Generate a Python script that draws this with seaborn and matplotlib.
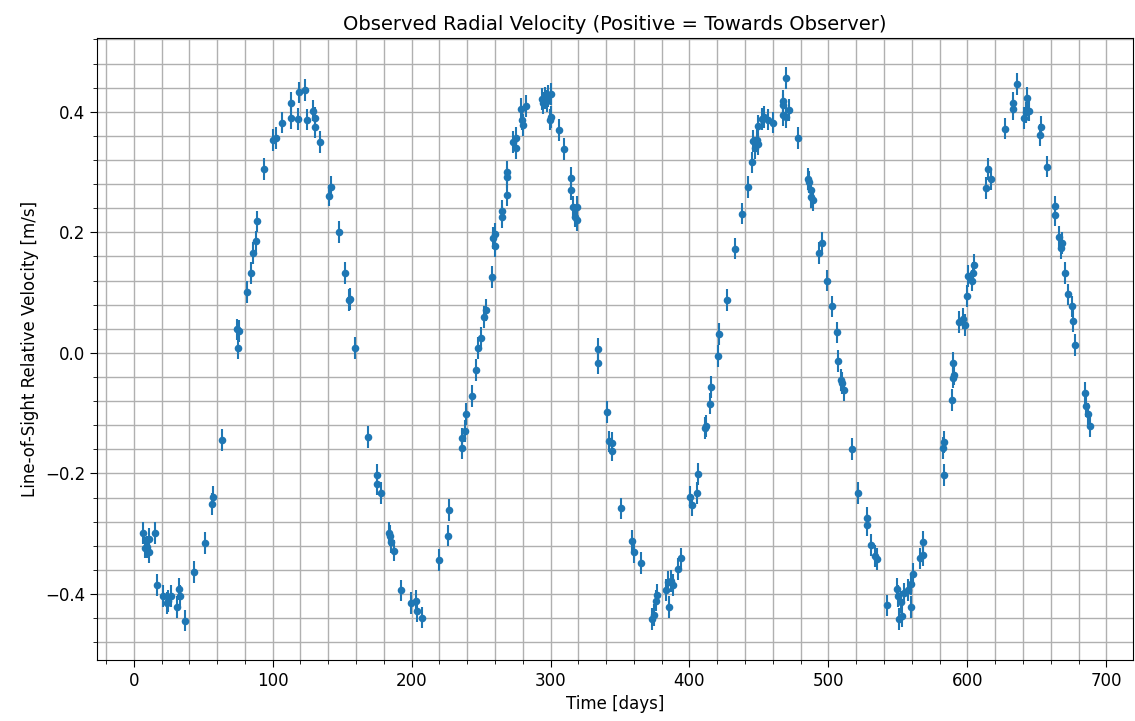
import numpy as np
import pandas as pd
import matplotlib
matplotlib.use("Agg")
import matplotlib.pyplot as plt
import seaborn as sns
from matplotlib.ticker import MultipleLocator

sns.set_style("ticks", rc={"text.color": "black", "axes.labelcolor": "black",
                           "xtick.color": "black", "ytick.color": "black",
                           "axes.edgecolor": "black"})
plt.rcParams['font.family'] = ['DejaVu Sans']

# Observation times [days]
tempo = [
    6.9, 8.1, 9.8, 11.2, 11.2, 15.3, 17.0, 21.3, 23.7, 24.9, 26.6, 31.4, 32.8, 33.3, 36.9,
    43.4, 51.3, 56.1, 57.3, 63.3, 74.6, 76.0, 75.3, 81.8, 84.2, 85.6, 87.8, 89.0, 93.8,
    100.0, 102.4, 106.7, 113.2, 113.4, 118.0, 118.7, 123.3, 124.5, 129.3, 130.5, 130.7,
    134.1, 140.6, 142.0, 148.0, 152.1, 155.0, 155.7, 159.5, 168.5,
    175.2, 175.2, 178.3, 183.6, 184.3, 185.5, 187.2, 192.7, 199.9, 203.0, 204.0, 207.8,
    219.6, 226.3, 227.0, 236.4, 236.4, 238.3, 239.5, 243.8, 246.0, 247.9, 249.6, 252.0,
    253.4, 258.0, 259.9, 258.7, 259.9, 264.7, 264.7, 268.3, 268.3, 268.8, 273.1, 275.0,
    274.8, 278.4, 279.1, 280.3, 282.2, 293.5, 294.7, 295.9, 297.1, 298.3, 300.0, 299.5,
    300.2, 306.2, 309.6, 314.4, 314.6, 316.3, 317.5, 318.7, 319.2, 334.3, 334.3, 340.8,
    342.2, 343.9, 344.4, 350.8,
    358.3, 360.0, 364.8, 373.2, 374.4, 375.8, 376.8, 383.0, 384.7, 385.4, 386.4, 388.3,
    391.9, 393.6, 400.3, 401.5, 405.1, 406.3, 411.1, 411.8, 414.7, 415.2, 420.7, 421.4,
    427.1, 432.5, 437.5, 441.8, 445.0, 445.4, 447.1, 448.3, 449.5, 449.5, 451.9, 453.6,
    456.7, 459.8, 467.0, 467.5, 467.0, 469.4, 469.4, 471.8, 477.8, 485.0, 486.0, 487.2,
    487.2, 488.6, 493.2, 495.1, 498.7, 502.3, 506.4, 507.1, 508.8, 509.5, 511.2, 516.7,
    521.0, 527.5, 527.5, 530.4, 533.5, 535.2, 542.0,
    549.6, 550.3, 551.0, 552.7, 552.0, 554.4, 557.5, 559.2, 559.2, 561.1, 565.9, 567.8,
    568.3, 582.2, 583.4, 583.4, 588.7, 589.9, 590.6, 589.9, 594.2, 596.6, 598.3, 599.5,
    600.7, 603.1, 603.8, 604.8, 613.4, 615.1, 617.0, 627.1, 632.6, 633.1, 635.5, 640.8,
    642.7, 642.2, 644.6, 652.3, 653.0, 657.1, 663.1, 663.4, 666.2, 667.4, 668.4, 670.3,
    672.7, 675.1, 676.3, 677.5, 684.7, 685.4, 687.1, 688.3,
]

# Line-of-sight velocity [m/s]
velocidade = [
    -0.299, -0.323, -0.322, -0.308, -0.330, -0.299, -0.385, -0.403, -0.415, -0.412, -0.403,
    -0.422, -0.392, -0.403, -0.444, -0.363, -0.315, -0.251, -0.239, -0.145, 0.039, 0.036,
    0.008, 0.101, 0.133, 0.166, 0.185, 0.218, 0.305, 0.353, 0.356, 0.382, 0.415, 0.390,
    0.388, 0.432, 0.436, 0.387, 0.402, 0.390, 0.375, 0.350, 0.261, 0.275, 0.201, 0.133,
    0.088, 0.089, 0.008, -0.140,
    -0.203, -0.217, -0.233, -0.299, -0.303, -0.314, -0.328, -0.394, -0.415, -0.412, -0.429,
    -0.439, -0.344, -0.303, -0.261, -0.158, -0.142, -0.130, -0.101, -0.072, -0.028, 0.008,
    0.025, 0.059, 0.071, 0.126, 0.177, 0.191, 0.197, 0.225, 0.236, 0.262, 0.291, 0.300,
    0.350, 0.340, 0.357, 0.405, 0.387, 0.378, 0.410, 0.421, 0.415, 0.423, 0.418, 0.426,
    0.429, 0.387, 0.391, 0.370, 0.338, 0.290, 0.271, 0.242, 0.226, 0.242, 0.220, 0.006,
    -0.017, -0.098, -0.147, -0.149, -0.162, -0.258,
    -0.312, -0.330, -0.349, -0.442, -0.435, -0.411, -0.401, -0.393, -0.380, -0.422, -0.379,
    -0.385, -0.358, -0.341, -0.239, -0.253, -0.232, -0.201, -0.125, -0.121, -0.084, -0.057,
    -0.005, 0.031, 0.088, 0.173, 0.231, 0.275, 0.316, 0.351, 0.340, 0.353, 0.346, 0.376,
    0.388, 0.391, 0.387, 0.382, 0.418, 0.412, 0.394, 0.456, 0.391, 0.403, 0.356, 0.288,
    0.283, 0.270, 0.258, 0.254, 0.166, 0.182, 0.120, 0.077, 0.034, -0.014, -0.045, -0.050,
    -0.061, -0.159, -0.233, -0.274, -0.285, -0.319, -0.337, -0.342, -0.419,
    -0.391, -0.403, -0.442, -0.437, -0.413, -0.399, -0.393, -0.422, -0.383, -0.366, -0.341,
    -0.314, -0.335, -0.158, -0.148, -0.203, -0.078, -0.041, -0.036, -0.017, 0.051, 0.057,
    0.046, 0.094, 0.128, 0.120, 0.133, 0.146, 0.274, 0.305, 0.289, 0.372, 0.415, 0.404,
    0.446, 0.390, 0.423, 0.399, 0.402, 0.361, 0.375, 0.309, 0.243, 0.229, 0.193, 0.174,
    0.182, 0.132, 0.097, 0.077, 0.053, 0.013, -0.067, -0.088, -0.101, -0.122,
]

erro = 0.018

df = pd.DataFrame({"Tempo": tempo, "Velocidade": velocidade})

fig, ax = plt.subplots(figsize=(11.35, 7.21), dpi=100)
fig.subplots_adjust(left=0.0855, right=0.998, top=0.947, bottom=0.085)

ax.errorbar(df["Tempo"], df["Velocidade"], yerr=erro, fmt="none",
            ecolor="#1f77b4", elinewidth=1.5, zorder=2)
sns.scatterplot(data=df, x="Tempo", y="Velocidade", ax=ax, color="#1f77b4",
                s=30, linewidth=0, zorder=3)

ax.set_xlim(-26.4, 719)
ax.set_ylim(-0.509, 0.522)
ax.xaxis.set_major_locator(MultipleLocator(100))
ax.xaxis.set_minor_locator(MultipleLocator(20))
ax.yaxis.set_major_locator(MultipleLocator(0.2))
ax.yaxis.set_minor_locator(MultipleLocator(0.04))
ax.grid(True, which="both", color="#b0b0b0", linewidth=1)
ax.set_axisbelow(True)
ax.tick_params(labelsize=12, length=5)
ax.tick_params(which="minor", length=3)

for spine in ax.spines.values():
    spine.set_visible(True)
    spine.set_color("black")

ax.set_title("Observed Radial Velocity (Positive = Towards Observer)", fontsize=14)
ax.set_xlabel("Time [days]", fontsize=12)
ax.set_ylabel("Line-of-Sight Relative Velocity [m/s]", fontsize=12)

plt.savefig("out.png", dpi=100)
